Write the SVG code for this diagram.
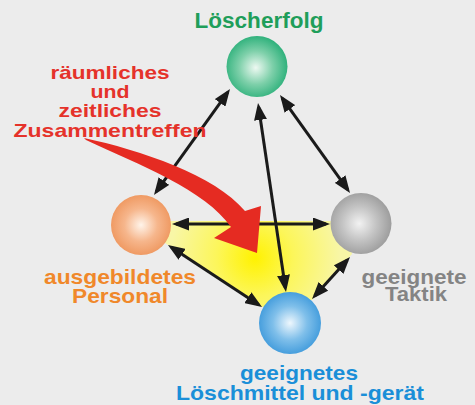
<svg xmlns="http://www.w3.org/2000/svg" width="475" height="405" viewBox="0 0 475 405">
<style>
.lbl{font-family:"Liberation Sans",Arial,sans-serif;font-weight:bold;text-anchor:middle}
.con{stroke:#1a1a1a;stroke-width:3;fill:none;marker-start:url(#ah);marker-end:url(#ah)}
</style>
<defs>
<marker id="ah" markerUnits="userSpaceOnUse" markerWidth="17" markerHeight="13" refX="13" refY="6.5" orient="auto-start-reverse" viewBox="0 0 17 13">
<path d="M0,0 L17,6.5 L0,13 Z" fill="#1a1a1a"/>
</marker>
<radialGradient id="gYel" cx="255" cy="258" r="85" gradientUnits="userSpaceOnUse">
<stop offset="0" stop-color="#fff200"/>
<stop offset="0.45" stop-color="#fcf65a"/>
<stop offset="1" stop-color="#f8f6a6"/>
</radialGradient>
<radialGradient id="gGreen" cx="0.48" cy="0.52" r="0.55">
<stop offset="0" stop-color="#eef9f2"/>
<stop offset="0.5" stop-color="#7ed0aa"/>
<stop offset="1" stop-color="#27ae77"/>
</radialGradient>
<radialGradient id="gOrange" cx="0.5" cy="0.5" r="0.55">
<stop offset="0" stop-color="#fff4ea"/>
<stop offset="0.5" stop-color="#f6b68c"/>
<stop offset="1" stop-color="#ee945a"/>
</radialGradient>
<radialGradient id="gGray" cx="0.47" cy="0.5" r="0.55">
<stop offset="0" stop-color="#f2f2f2"/>
<stop offset="0.5" stop-color="#c4c4c4"/>
<stop offset="1" stop-color="#9a9a9a"/>
</radialGradient>
<radialGradient id="gBlue" cx="0.5" cy="0.5" r="0.55">
<stop offset="0" stop-color="#eef7fd"/>
<stop offset="0.5" stop-color="#7fbfea"/>
<stop offset="1" stop-color="#3a97da"/>
</radialGradient>
</defs>
<rect width="475" height="405" fill="#ececec"/>
<polygon id="area" points="160,221 345,221 352,254 312,300 262,307 165,243" fill="url(#gYel)"/>
<g id="connectors">
<line class="con" x1="227.7" y1="92.3" x2="156.3" y2="191.7"/>
<line class="con" x1="258.6" y1="107" x2="285.4" y2="288"/>
<line class="con" x1="282.3" y1="98.3" x2="347.7" y2="189.7"/>
<line class="con" x1="176" y1="224" x2="326" y2="224"/>
<line class="con" x1="171.3" y1="247.2" x2="258.7" y2="304.8"/>
<line class="con" x1="347.3" y1="260" x2="314.7" y2="296"/>
</g>
<g id="redarrow">
<path d="M84,138 C140,150 215,175 245,211 L261,206 L257,253 L214,238 L231,227 C205,190 140,165 86,140 Z" fill="#e52b22"/>
<text class="lbl" fill="#e5322a" font-size="19"><tspan x="110" y="79" textLength="119" lengthAdjust="spacingAndGlyphs">räumliches</tspan><tspan x="110" y="98" textLength="39" lengthAdjust="spacingAndGlyphs">und</tspan><tspan x="110" y="117" textLength="103" lengthAdjust="spacingAndGlyphs">zeitliches</tspan><tspan x="110" y="137" textLength="193" lengthAdjust="spacingAndGlyphs">Zusammentreffen</tspan></text>
</g>
<g id="loescherfolg">
<circle cx="257" cy="66.5" r="30.5" fill="url(#gGreen)"/>
<text class="lbl" fill="#1f9e5a" font-size="22" x="259" y="28" textLength="129" lengthAdjust="spacingAndGlyphs">Löscherfolg</text>
</g>
<g id="personal">
<circle cx="141" cy="225" r="30" fill="url(#gOrange)"/>
<text class="lbl" fill="#f0882a" font-size="20.5"><tspan x="120" y="284" textLength="152" lengthAdjust="spacingAndGlyphs">ausgebildetes</tspan><tspan x="120" y="303" textLength="96" lengthAdjust="spacingAndGlyphs">Personal</tspan></text>
</g>
<g id="taktik">
<circle cx="361" cy="223.5" r="30.5" fill="url(#gGray)"/>
<text class="lbl" fill="#848484" font-size="20.5"><tspan x="414" y="284" textLength="105" lengthAdjust="spacingAndGlyphs">geeignete</tspan><tspan x="416" y="301" textLength="62" lengthAdjust="spacingAndGlyphs">Taktik</tspan></text>
</g>
<g id="loeschmittel">
<circle cx="290" cy="323" r="31" fill="url(#gBlue)"/>
<text class="lbl" fill="#1a8fd8" font-size="21"><tspan x="299" y="380" textLength="118" lengthAdjust="spacingAndGlyphs">geeignetes</tspan><tspan x="300" y="400" textLength="248" lengthAdjust="spacingAndGlyphs">Löschmittel und -gerät</tspan></text>
</g>
</svg>
